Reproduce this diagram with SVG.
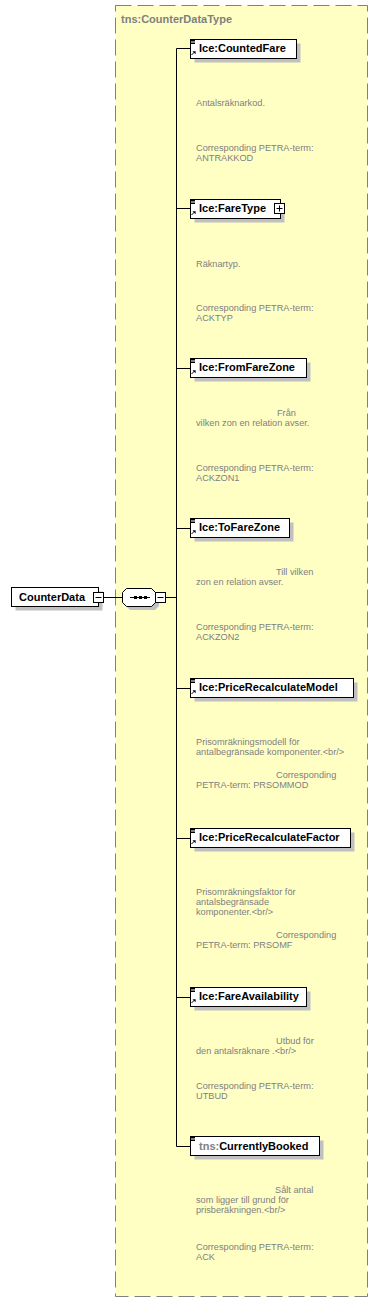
<svg xmlns="http://www.w3.org/2000/svg" width="378" height="1301" viewBox="0 0 378 1301">
<style>
.lbl{font-family:"Liberation Sans",Arial,sans-serif;font-size:11px;font-weight:bold;fill:#000}
.ns{fill:#808080}
.doc{font-family:"Liberation Sans",Arial,sans-serif;font-size:9.2px;fill:#808080}
.box{fill:#fff;stroke:#000;stroke-width:1}
.shd{fill:#c0c0c0}
.ln{stroke:#000;stroke-width:1;fill:none}
.ico{stroke:#000;stroke-width:1}
</style>
<defs>
<g id="docicon"><path d="M1,1.5H5M1,3H5M1,4.5H5" class="ico"/></g>
<g id="reficon"><path d="M1.5,16 L4.5,13" class="ico"/><path d="M2.5,12.2 L5.6,12.2 L5.6,15.3 Z" fill="#000"/></g>
</defs>
<rect x="115.5" y="5.5" width="252" height="1291" fill="#ffffc4" stroke="#808080" stroke-width="1" stroke-dasharray="16 6"/>
<text x="121" y="23" class="lbl ns">tns:CounterDataType</text>

<g id="connectors">
<path class="ln" d="M104,597.5H122"/>
<path class="ln" d="M166,597.5H176.5"/>
<path class="ln" d="M176.5,48.5V1146.5"/>
<path class="ln" d="M176.5,48.5H190M176.5,208.5H190M176.5,368.5H190M176.5,528.5H190M176.5,688.5H190M176.5,838.5H190M176.5,997.5H190M176.5,1146.5H190"/>
</g>

<g id="CounterData">
<rect x="15.5" y="591.5" width="87" height="19" class="shd"/>
<rect x="11.5" y="587.5" width="87" height="19" class="box"/>
<text x="19" y="601" class="lbl">CounterData</text>
<rect x="93.5" y="592.5" width="10" height="10" class="box"/>
<path d="M95.5,597.5H101.5" class="ico"/>
</g>

<g id="sequence">
<path d="M129.5,592 H155 L159,596 V606 L155,610 H130 L126,606 V596 Z" class="shd"/>
<path d="M126.5,588.5 H151.5 L155.5,592.5 V602.5 L151.5,606.5 H126.5 L122.5,602.5 V592.5 Z" fill="#fff" stroke="#000"/>
<path d="M130,597.5H150" class="ico"/>
<rect x="134" y="596" width="3" height="3" fill="#000"/>
<rect x="139" y="596" width="3" height="3" fill="#000"/>
<rect x="144" y="596" width="3" height="3" fill="#000"/>
<rect x="155.5" y="592.5" width="10" height="10" class="box"/>
<path d="M157.5,597.5H163.5" class="ico"/>
</g>

<g id="CountedFare">
<rect x="194.5" y="43.5" width="106" height="19" class="shd"/>
<rect x="190.5" y="39.5" width="106" height="19" class="box"/>
<use href="#docicon" x="190" y="39"/><use href="#reficon" x="190" y="39"/>
<text x="199" y="52" class="lbl">Ice:CountedFare</text>
<text class="doc"><tspan x="196" y="106">Antalsräknarkod.</tspan><tspan x="196" y="151">Corresponding PETRA-term:</tspan><tspan x="196" y="161">ANTRAKKOD</tspan></text>
</g>

<g id="FareType">
<rect x="194.5" y="203.5" width="90" height="19" class="shd"/>
<rect x="190.5" y="199.5" width="90" height="19" class="box"/>
<use href="#docicon" x="190" y="199"/><use href="#reficon" x="190" y="199"/>
<text x="199" y="212" class="lbl">Ice:FareType</text>
<rect x="274.5" y="203.5" width="10" height="10" class="box"/>
<path d="M276.5,208.5H282.5M279.5,205.5V211.5" class="ico"/>
<text class="doc"><tspan x="196" y="267">Räknartyp.</tspan><tspan x="196" y="311">Corresponding PETRA-term:</tspan><tspan x="196" y="321">ACKTYP</tspan></text>
</g>

<g id="FromFareZone">
<rect x="194.5" y="362.5" width="116" height="19" class="shd"/>
<rect x="190.5" y="358.5" width="116" height="19" class="box"/>
<use href="#docicon" x="190" y="358"/><use href="#reficon" x="190" y="358"/>
<text x="199" y="371" class="lbl">Ice:FromFareZone</text>
<text class="doc"><tspan x="277" y="416">Från</tspan><tspan x="196" y="426">vilken zon en relation avser.</tspan><tspan x="196" y="471">Corresponding PETRA-term:</tspan><tspan x="196" y="481">ACKZON1</tspan></text>
</g>

<g id="ToFareZone">
<rect x="194.5" y="522.5" width="99" height="19" class="shd"/>
<rect x="190.5" y="518.5" width="99" height="19" class="box"/>
<use href="#docicon" x="190" y="518"/><use href="#reficon" x="190" y="518"/>
<text x="199" y="531" class="lbl">Ice:ToFareZone</text>
<text class="doc"><tspan x="276" y="575">Till vilken</tspan><tspan x="196" y="585">zon en relation avser.</tspan><tspan x="196" y="630">Corresponding PETRA-term:</tspan><tspan x="196" y="640">ACKZON2</tspan></text>
</g>

<g id="PriceRecalculateModel">
<rect x="194.5" y="682.5" width="163" height="19" class="shd"/>
<rect x="190.5" y="678.5" width="163" height="19" class="box"/>
<use href="#docicon" x="190" y="678"/><use href="#reficon" x="190" y="678"/>
<text x="199" y="691" class="lbl">Ice:PriceRecalculateModel</text>
<text class="doc"><tspan x="196" y="745">Prisomräkningsmodell för</tspan><tspan x="196" y="755">antalbegränsade komponenter.&lt;br/&gt;</tspan><tspan x="276" y="778">Corresponding</tspan><tspan x="196" y="788">PETRA-term: PRSOMMOD</tspan></text>
</g>

<g id="PriceRecalculateFactor">
<rect x="194.5" y="832.5" width="160" height="19" class="shd"/>
<rect x="190.5" y="828.5" width="160" height="19" class="box"/>
<use href="#docicon" x="190" y="828"/><use href="#reficon" x="190" y="828"/>
<text x="199" y="841" class="lbl">Ice:PriceRecalculateFactor</text>
<text class="doc"><tspan x="196" y="895">Prisomräkningsfaktor för</tspan><tspan x="196" y="905">antalsbegränsade</tspan><tspan x="196" y="915">komponenter.&lt;br/&gt;</tspan><tspan x="276" y="938">Corresponding</tspan><tspan x="196" y="948">PETRA-term: PRSOMF</tspan></text>
</g>

<g id="FareAvailability">
<rect x="194.5" y="991.5" width="116" height="19" class="shd"/>
<rect x="190.5" y="987.5" width="116" height="19" class="box"/>
<use href="#docicon" x="190" y="987"/><use href="#reficon" x="190" y="987"/>
<text x="199" y="1000" class="lbl">Ice:FareAvailability</text>
<text class="doc"><tspan x="276" y="1044">Utbud för</tspan><tspan x="196" y="1054">den antalsräknare .&lt;br/&gt;</tspan><tspan x="196" y="1089">Corresponding PETRA-term:</tspan><tspan x="196" y="1099">UTBUD</tspan></text>
</g>

<g id="CurrentlyBooked">
<rect x="194.5" y="1140.5" width="129" height="19" class="shd"/>
<rect x="190.5" y="1136.5" width="129" height="19" class="box"/>
<use href="#docicon" x="190" y="1136"/>
<text x="199" y="1149.5" class="lbl"><tspan class="ns">tns:</tspan>CurrentlyBooked</text>
<text class="doc"><tspan x="275" y="1193">Sålt antal</tspan><tspan x="196" y="1203">som ligger till grund för</tspan><tspan x="196" y="1213">prisberäkningen.&lt;br/&gt;</tspan><tspan x="196" y="1250">Corresponding PETRA-term:</tspan><tspan x="196" y="1260">ACK</tspan></text>
</g>
</svg>
